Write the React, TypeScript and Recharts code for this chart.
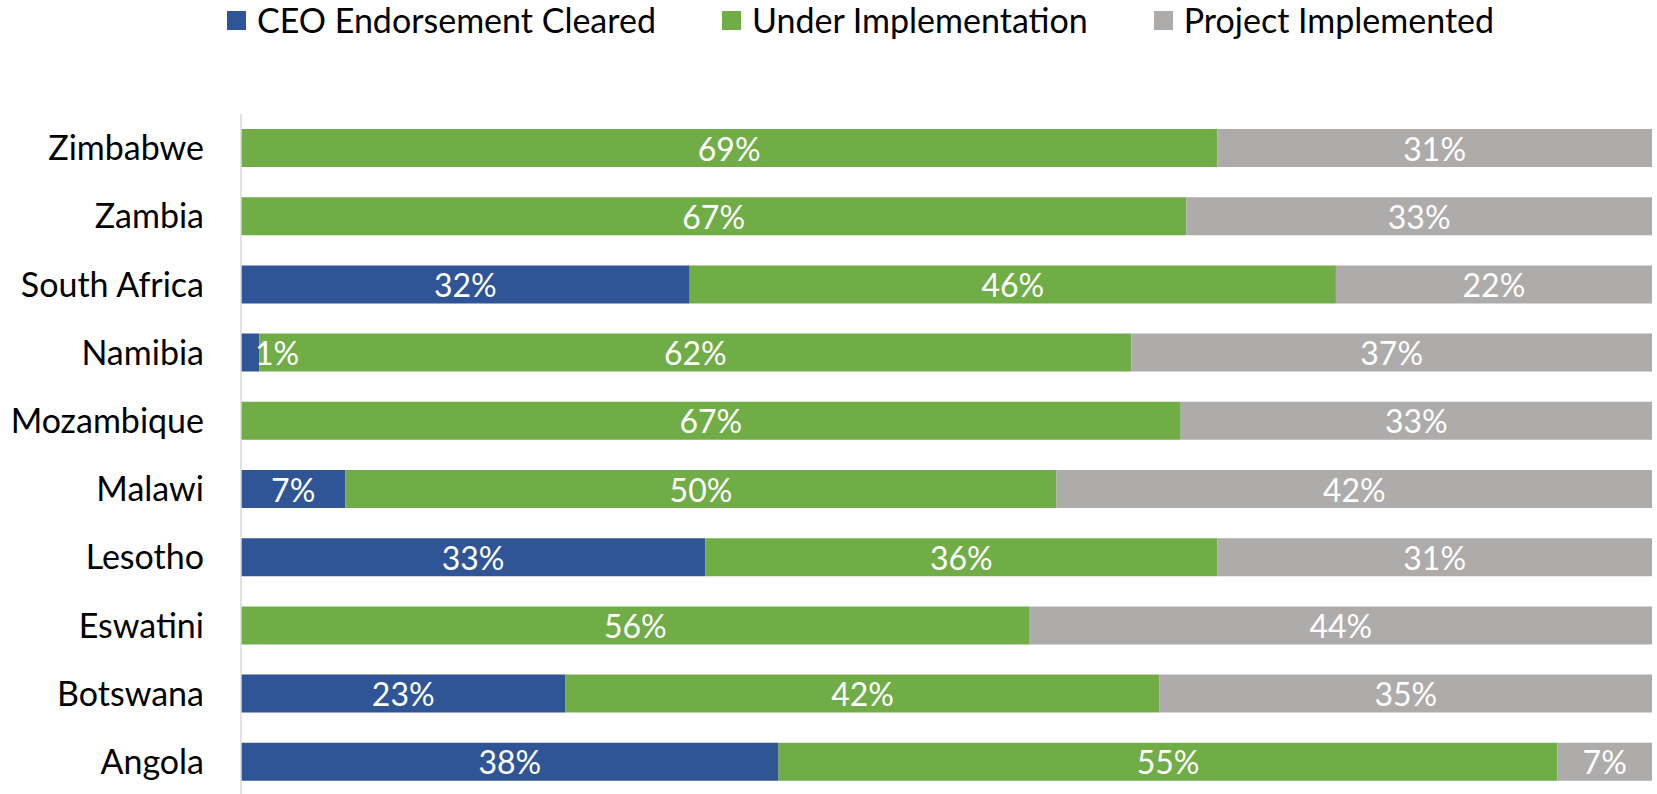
import React from "react";
import { BarChart, Bar, XAxis, YAxis, Legend, LabelList } from "recharts";

const countries = ["Zimbabwe", "Zambia", "South Africa", "Namibia", "Mozambique", "Malawi", "Lesotho", "Eswatini", "Botswana", "Angola"];
const ceoCleared = [0, 0, 31.8, 1.3, 0, 7.4, 32.9, 0, 23.0, 38.1];
const underImpl = [69.2, 67.0, 45.8, 61.8, 66.6, 50.4, 36.3, 55.9, 42.1, 55.2];
const implemented = [30.8, 33.0, 22.4, 36.9, 33.4, 42.2, 30.8, 44.1, 34.9, 6.7];

const seriesNames = ["CEO Endorsement Cleared", "Under Implementation", "Project Implemented"];
const seriesColors = ["#2F5597", "#70AD47", "#AEABAB"];

const data = countries.map((name, i) => ({
  name,
  ceo: ceoCleared[i],
  under: underImpl[i],
  done: implemented[i],
}));

const FONT = "Lato, 'Open Sans', sans-serif";
const FS = 34;
const LABEL_FS = 32;
const LEGEND_H = 40;

const BarLabel = (props: any) => {
  const { x, y, width, height, value } = props;
  if (!value) return null;
  const text = `${Math.round(value)}%`;
  // tiny segments: let the label start near the bar instead of centring it
  const narrow = width < 40;
  return (
    <text
      x={narrow ? x + 14 : x + width / 2}
      y={y + height / 2}
      fill="#fff"
      fontSize={LABEL_FS}
      fontFamily={FONT}
      textAnchor={narrow ? "start" : "middle"}
      dominantBaseline="central"
    >
      {text}
    </text>
  );
};

const LegendContent = () => (
  <div style={{ display: "flex", alignItems: "center", paddingLeft: 227, fontFamily: FONT, fontSize: FS, lineHeight: `${LEGEND_H}px`, color: "#000", height: LEGEND_H }}>
    {seriesNames.map((n, i) => (
      <div key={n} style={{ display: "flex", alignItems: "center", marginRight: 66 }}>
        <span style={{ width: 19, height: 19, background: seriesColors[i], display: "inline-block", marginRight: 11 }} />
        <span style={{ whiteSpace: "nowrap" }}>{n}</span>
      </div>
    ))}
  </div>
);

export default function App() {
  return (
    <div style={{ position: "absolute", left: 0, top: 0, width: 1657, height: 794, overflow: "hidden", background: "#fff" }}>
      <BarChart
        width={1657}
        height={796}
        data={data}
        layout="vertical"
        margin={{ top: 114 - LEGEND_H, right: 5, bottom: 0, left: 0 }}
        barCategoryGap="22%"
      >
        <XAxis type="number" domain={[0, 100]} hide />
        <YAxis
          type="category"
          dataKey="name"
          width={241}
          tickSize={0}
          tickMargin={37}
          axisLine={{ stroke: "#D9D9D9", strokeWidth: 1.5 }}
          tickLine={false}
          tick={{ fill: "#000", fontSize: FS, fontFamily: FONT }}
          interval={0}
        />
        <Legend
          verticalAlign="top"
          align="left"
          content={<LegendContent />}
          wrapperStyle={{ top: 0, left: 0, width: 1657, height: LEGEND_H }}
        />
        <Bar dataKey="ceo" stackId="a" fill={seriesColors[0]} name={seriesNames[0]} isAnimationActive={false}>
          <LabelList dataKey="ceo" content={<BarLabel />} />
        </Bar>
        <Bar dataKey="under" stackId="a" fill={seriesColors[1]} name={seriesNames[1]} isAnimationActive={false}>
          <LabelList dataKey="under" content={<BarLabel />} />
        </Bar>
        <Bar dataKey="done" stackId="a" fill={seriesColors[2]} name={seriesNames[2]} isAnimationActive={false}>
          <LabelList dataKey="done" content={<BarLabel />} />
        </Bar>
      </BarChart>
    </div>
  );
}
